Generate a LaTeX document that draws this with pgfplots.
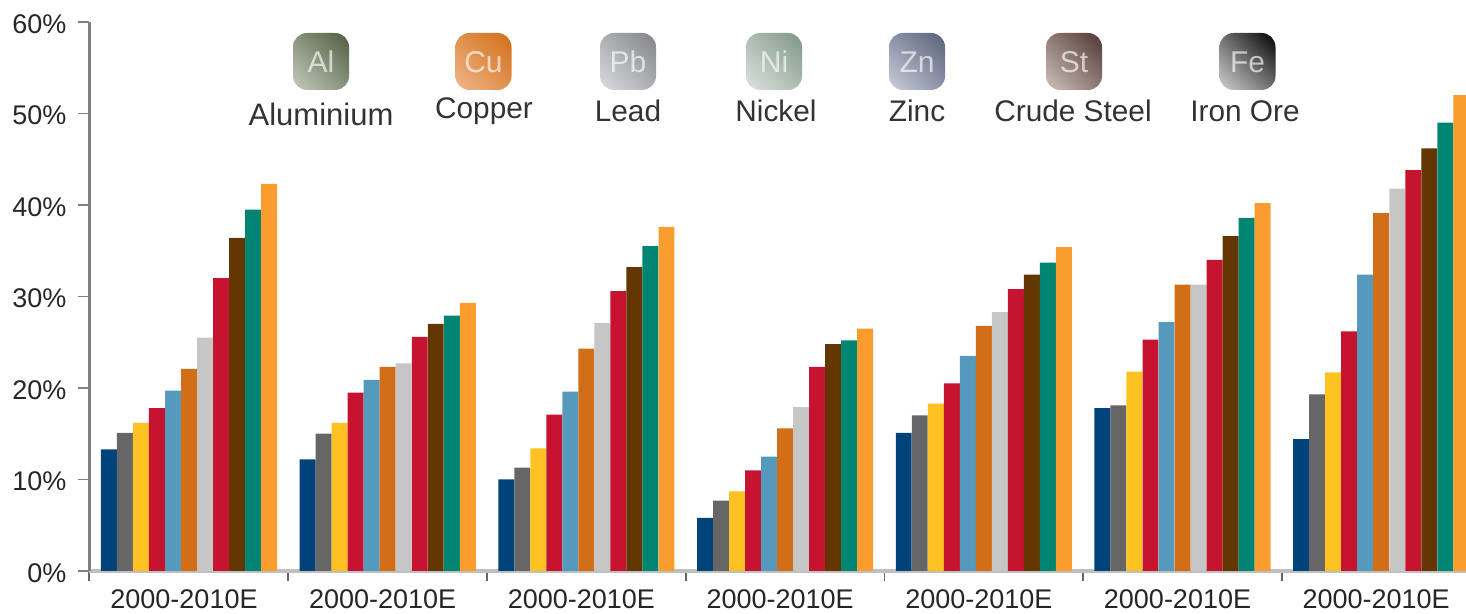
\documentclass[border=0pt]{standalone}
\usepackage{pgfplots}
\usepackage{pgfplotstable}
\usepackage{fontspec}
\usetikzlibrary{shadings}
\setmainfont{Liberation Sans}
\pgfplotsset{compat=1.18}
\definecolor{c1}{HTML}{00437B}
\definecolor{c2}{HTML}{666666}
\definecolor{c3}{HTML}{FFC222}
\definecolor{c4}{HTML}{C6132F}
\definecolor{c5}{HTML}{5599BD}
\definecolor{c6}{HTML}{D26E18}
\definecolor{c7}{HTML}{C6C6C6}
\definecolor{c8}{HTML}{C6132F}
\definecolor{c9}{HTML}{643602}
\definecolor{c10}{HTML}{008573}
\definecolor{c11}{HTML}{FA9D2E}
\definecolor{alA}{HTML}{4E5D40}\definecolor{alB}{HTML}{C5CDC0}\definecolor{alC}{HTML}{87937C}
\definecolor{cuA}{HTML}{D06F18}\definecolor{cuB}{HTML}{F0B88A}\definecolor{cuC}{HTML}{E18F4E}
\definecolor{pbA}{HTML}{808285}\definecolor{pbB}{HTML}{DCDDE0}\definecolor{pbC}{HTML}{AEAFB2}
\definecolor{niA}{HTML}{7F9585}\definecolor{niB}{HTML}{DDE3DF}\definecolor{niC}{HTML}{AEBCB2}
\definecolor{znA}{HTML}{586078}\definecolor{znB}{HTML}{CCD0DC}\definecolor{znC}{HTML}{8C92A8}
\definecolor{stA}{HTML}{4F3732}\definecolor{stB}{HTML}{D0C0BC}\definecolor{stC}{HTML}{8F7B76}
\definecolor{feA}{HTML}{000000}\definecolor{feB}{HTML}{D0D0D0}\definecolor{feC}{HTML}{707070}
\pgfplotstableread{
g b1 b2 b3 b4 b5 b6 b7 b8 b9 b10 b11
0 13.3 15.1 16.2 17.8 19.7 22.1 25.5 32.0 36.4 39.5 42.3
1 12.2 15.0 16.2 19.5 20.9 22.3 22.7 25.6 27.0 27.9 29.3
2 10.0 11.3 13.4 17.1 19.6 24.3 27.1 30.6 33.2 35.5 37.6
3 5.8 7.7 8.7 11.0 12.5 15.6 17.9 22.3 24.8 25.2 26.5
4 15.1 17.0 18.3 20.5 23.5 26.8 28.3 30.8 32.4 33.7 35.4
5 17.8 18.1 21.8 25.3 27.2 31.3 31.3 34.0 36.6 38.6 40.2
6 14.4 19.3 21.7 26.2 32.4 39.1 41.8 43.8 46.2 49.0 52.0
}\bardata
% #1 centre x, #2 half width, #3 symbol, #4 colour prefix, #5 name x, #6 name y, #7 name
\newcommand{\icon}[7]{%
  \shade[rounded corners=7pt, upper right=#4A, lower left=#4B, upper left=#4C, lower right=#4C]
    (#1-#2,33+581-90) rectangle (#1+#2,33+581-33);
  \node[text=white, opacity=0.65, font=\fontsize{15}{17}\selectfont] at (#1,552) {#3};
  \node[text=black!80, font=\fontsize{14.9}{16}\selectfont] at (#5,#6) {#7};
}
\begin{document}
\begin{tikzpicture}[x=0.5pt,y=0.5pt]
\path[use as bounding box] (0,0) rectangle (1466,614);
\begin{axis}[
  at={(44.5pt,21.5pt)}, anchor=south west,
  scale only axis, width=688.5pt, height=274.5pt,
  xmin=-0.5033, xmax=6.4268, ymin=0, ymax=60,
  ybar, bar width=0.0803,
  axis lines=left,
  axis line style={-},
  x axis line style={draw=black!25, line width=1.6pt},
  y axis line style={draw=black!50, line width=1.5pt},
  xtick={0,1,2,3,4,5,6},
  xticklabels={2000-2010E,2000-2010E,2000-2010E,2000-2010E,2000-2010E,2000-2010E,2000-2010E},
  major x tick style={draw=none},
  minor xtick={-0.5033,0.5,1.5,2.5,3.5,4.5,5.5},
  minor tick length=5pt,
  minor x tick style={draw=black!60, line width=0.9pt},
  ytick={0,10,20,30,40,50,60},
  yticklabel={\pgfmathprintnumber{\tick}\%},
  major y tick style={draw=black!50, line width=0.9pt},
  major tick length=5.5pt,
  tick align=outside,
  x tick label style={yshift=-0.5pt, xshift=-2.5pt},
  y tick label style={xshift=-2.3pt, yshift=-1pt},
  tick label style={font=\fontsize{13.5}{15}\selectfont, text=black!85},
  /pgf/number format/assume math mode=true,
]
\addplot[fill=c1,draw=none,bar shift=-0.403] table[x=g,y=b1]{\bardata};
\addplot[fill=c2,draw=none,bar shift=-0.3224] table[x=g,y=b2]{\bardata};
\addplot[fill=c3,draw=none,bar shift=-0.2418] table[x=g,y=b3]{\bardata};
\addplot[fill=c4,draw=none,bar shift=-0.1612] table[x=g,y=b4]{\bardata};
\addplot[fill=c5,draw=none,bar shift=-0.0806] table[x=g,y=b5]{\bardata};
\addplot[fill=c6,draw=none,bar shift=0] table[x=g,y=b6]{\bardata};
\addplot[fill=c7,draw=none,bar shift=0.0806] table[x=g,y=b7]{\bardata};
\addplot[fill=c8,draw=none,bar shift=0.1612] table[x=g,y=b8]{\bardata};
\addplot[fill=c9,draw=none,bar shift=0.2418] table[x=g,y=b9]{\bardata};
\addplot[fill=c10,draw=none,bar shift=0.3224] table[x=g,y=b10]{\bardata};
\addplot[fill=c11,draw=none,bar shift=0.403] table[x=g,y=b11]{\bardata};
\end{axis}
\icon{321}{28}{Al}{al}{321}{500}{{\fontsize{15.5}{17}\selectfont Aluminium}}
\icon{483.5}{28}{Cu}{cu}{484}{503}{Copper}
\icon{628}{28}{Pb}{pb}{628}{503}{Lead}
\icon{774}{28}{Ni}{ni}{776}{503}{Nickel}
\icon{917}{28}{Zn}{zn}{917}{503}{Zinc}
\icon{1074}{28}{St}{st}{1073}{503}{Crude Steel}
\icon{1247.5}{28}{Fe}{fe}{1245}{503}{Iron Ore}
\end{tikzpicture}
\end{document}
